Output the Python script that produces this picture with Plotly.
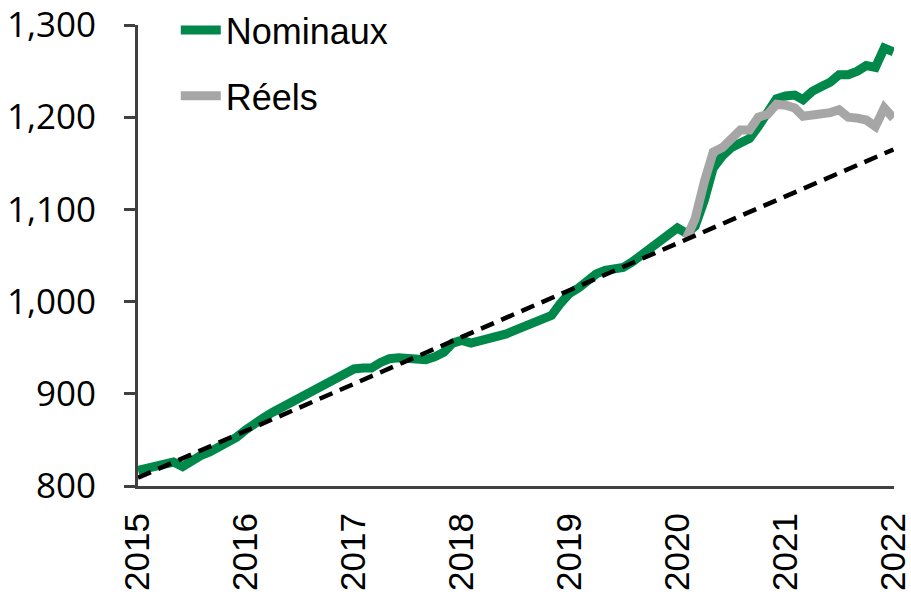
import plotly.graph_objects as go
import pandas as pd

# Monthly dates Jan 2015 - Jan 2022
dates = pd.date_range("2015-01-01", "2022-01-01", freq="MS").strftime("%Y-%m-%d").tolist()

nominaux = [
    817, 819, 822, 824, 826, 821, 828, 833, 837, 842, 847, 853,   # 2015
    861, 869, 874, 880, 885, 890, 897, 901, 905, 910, 915, 920,   # 2016
    927, 928, 928, 934, 938, 939, 938, 936, 937, 940, 945, 955,   # 2017
    958, 955, 957, 959, 962, 965, 969, 973, 977, 979, 985, 998,   # 2018
    1009, 1015, 1022, 1030, 1034, 1035, 1037, 1043, 1051, 1058, 1065, 1072,  # 2019
    1080, 1074, 1082, 1110, 1145, 1158, 1167, 1172, 1177, 1190, 1207, 1220,  # 2020
    1223, 1224, 1219, 1228, 1233, 1238, 1246, 1246, 1250, 1256, 1254, 1275,  # 2021
    1271,                                                          # 2022
]

reels_dates = dates[61:]
reels = [
    1069, 1090, 1130, 1162, 1167, 1178, 1186, 1186, 1200, 1203, 1214,  # Feb-Dec 2020
    1213, 1210, 1201, 1202, 1202, 1205, 1208, 1200, 1199, 1197, 1190, 1210,  # 2021
    1199,  # 2022
]

trend_dates = ["2015-01-01", "2022-01-01"]
trend_values = [809, 1165]

y_ticks = [800, 900, 1000, 1100, 1200, 1300]
x_ticks = [f"{y}-01-01" for y in range(2015, 2023)]

SANS = "Liberation Sans, Arial, sans-serif"
HUMAN = "Open Sans, Noto Sans, sans-serif"

fig = go.Figure()
fig.add_trace(go.Scatter(
    x=dates, y=nominaux, mode="lines", name="Nominaux",
    line=dict(color="#00884A", width=9), legendgroup="a",
))
fig.add_trace(go.Scatter(
    x=reels_dates, y=reels, mode="lines", name="Réels",
    line=dict(color="#A6A6A6", width=9), legendgroup="b",
))
fig.add_trace(go.Scatter(
    x=trend_dates, y=trend_values, mode="lines", showlegend=False,
    line=dict(color="#000000", width=4.5, dash="14px,8px"),
))

fig.update_layout(
    width=911, height=595,
    margin=dict(l=138, r=17, t=25, b=109, autoexpand=False),
    paper_bgcolor="white", plot_bgcolor="white",
    font=dict(family=SANS, size=36, color="#000000"),
    showlegend=True,
    legend=dict(
        x=0.05, y=1.054, xanchor="left", yanchor="top",
        bgcolor="rgba(0,0,0,0)", font=dict(size=36, family=SANS, color="#000000"),
        tracegroupgap=16, itemwidth=40,
    ),
    xaxis=dict(
        type="date",
        range=["2015-01-01", "2022-01-03"],
        tickvals=x_ticks, tickformat="%Y", tickangle=-90,
        showline=True, linecolor="#404040", linewidth=3,
        ticks="", showgrid=False, zeroline=False,
        ticklabelstandoff=10, automargin=False,
        ticklabeloverflow="allow",
        tickfont=dict(size=35, family=SANS, color="#000000"),
    ),
    yaxis=dict(
        range=[800, 1300], tickvals=y_ticks, tickformat=",d",
        showline=True, linecolor="#404040", linewidth=3,
        ticks="outside", ticklen=11, tickwidth=3, tickcolor="#404040",
        showgrid=False, zeroline=False,
        ticklabelstandoff=21, automargin=False,
        tickfont=dict(size=35, family=HUMAN, color="#000000"),
    ),
)

fig.write_html(
    "out.html",
    include_plotlyjs=True,
    config={"displayModeBar": False},
    post_script="document.body.style.margin='0';document.body.style.overflow='hidden';",
)
